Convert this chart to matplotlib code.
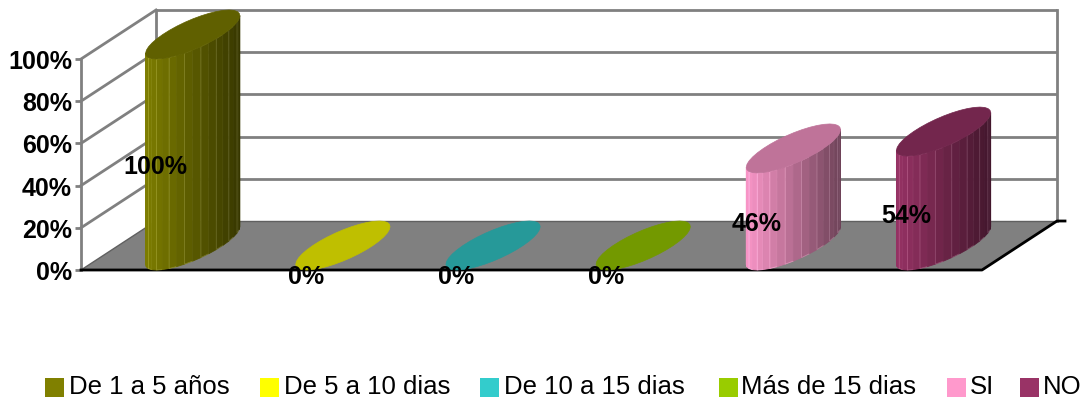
import numpy as np
import matplotlib
matplotlib.use('Agg')
import matplotlib.pyplot as plt
from matplotlib.colors import to_rgb

categories = ['De 1 a 5 años', 'De 5 a 10 dias', 'De 10 a 15 dias', 'Más de 15 dias', 'SI', 'NO']
values = [100, 0, 0, 0, 46, 54]
colors = ['#808000', '#FFFF00', '#33CCCC', '#99CC00', '#FF99CC', '#993366']
ticks = [0, 20, 40, 60, 80, 100]

# pixel geometry of the fake 3d box
x0, x1 = 81, 982
y0 = 271
per_pct = 2.11
dx, dy = 75, 49
bar_w = 60
step = (x1 - x0) / len(values)
legend_box_x = [45, 260, 480, 719, 947, 1020]
legend_text_x = [69, 284, 504, 741, 970, 1043]

plt.rcParams['font.family'] = ['Liberation Sans', 'DejaVu Sans']
fig = plt.figure(figsize=(10.86, 4.02), dpi=100)
ax = fig.add_axes([0, 0, 1, 1])
ax.set_xlim(0, 1086)
ax.set_ylim(402, 0)
ax.axis('off')


def ypos(v):
    return y0 - v * per_pct


grid = '#808080'
# floor
ax.fill([x0, x1, x1 + dx, x0 + dx], [y0, y0, y0 - dy, y0 - dy], color='#808080', lw=0, zorder=1)
# walls and grid
for t in ticks:
    y = ypos(t)
    if t > 0:
        ax.plot([x0 + dx, x1 + dx], [y - dy, y - dy], color=grid, lw=2, zorder=2, solid_capstyle='butt')
        ax.plot([x0, x0 + dx], [y, y - dy], color=grid, lw=2, zorder=2)
    ax.plot([x0 - 6, x0], [y, y], color=grid, lw=2, zorder=2, solid_capstyle='butt')
    ax.text(72, y + 2, f'{t}%', ha='right', va='center', fontsize=18, fontweight='bold', color='black', zorder=6)
ax.plot([x0, x0], [ypos(100), y0], color=grid, lw=2, zorder=2)
ax.plot([x0 + dx, x0 + dx], [ypos(100) - dy, y0 - dy], color=grid, lw=2, zorder=2)
ax.plot([x1 + dx, x1 + dx], [ypos(100) - dy, y0 - dy], color=grid, lw=2, zorder=2)
ax.plot([x0, x0 + dx], [y0, y0 - dy], color='#606060', lw=1, zorder=2)
ax.plot([x0 + dx, x1 + dx], [y0 - dy, y0 - dy], color='#606060', lw=1, zorder=2)
# black front and side edges of the floor
ax.plot([x0, x1, x1 + dx, x1 + dx + 8], [y0, y0, y0 - dy, y0 - dy], color='black', lw=2, zorder=3)

A, B, C = bar_w / 2, dx / 2 * 0.97, dy / 2
t0 = np.arctan2(B, A)


def rim(cx, cy, t):
    return cx + A * np.cos(t) + B * np.sin(t), cy - C * np.sin(t)


for i, v in enumerate(values):
    col = np.array(to_rgb(colors[i]))
    left = x0 + step * (i + 0.43)
    cx = left + np.hypot(A, B)
    cy = y0 - C
    h = v * per_pct
    if v > 0:
        ts = np.linspace(t0 - np.pi, t0, 19)
        for k in range(len(ts) - 1):
            xa, ya = rim(cx, cy, ts[k])
            xb, yb = rim(cx, cy, ts[k + 1])
            frac = ((xa + xb) / 2 - left) / (2 * np.hypot(A, B))
            shade = col * (0.98 - 0.55 * frac)
            edge = np.minimum(shade + 0.14, 1) if k % 2 == 0 and k > 1 else shade
            ax.fill([xa, xb, xb, xa], [ya, yb, yb - h, ya - h], facecolor=shade, edgecolor=edge, lw=0.6, zorder=4)
    ts = np.linspace(0, 2 * np.pi, 37)
    xs, ys = rim(cx, cy - h, ts)
    ax.fill(xs, ys, color=col * 0.75, lw=0.5, zorder=5)
    ax.text(left + 10, ypos(v / 2) + (6 if v == 0 else 2), f'{v}%', ha='center', va='center',
            fontsize=18, fontweight='bold', color='black', zorder=6)

# legend
for i, c in enumerate(categories):
    ax.fill([legend_box_x[i], legend_box_x[i] + 19, legend_box_x[i] + 19, legend_box_x[i]],
            [379, 379, 398, 398], color=colors[i], lw=0)
    ax.text(legend_text_x[i], 387, c, ha='left', va='center', fontsize=18.5, color='black')

plt.savefig('out.png', dpi=100)
